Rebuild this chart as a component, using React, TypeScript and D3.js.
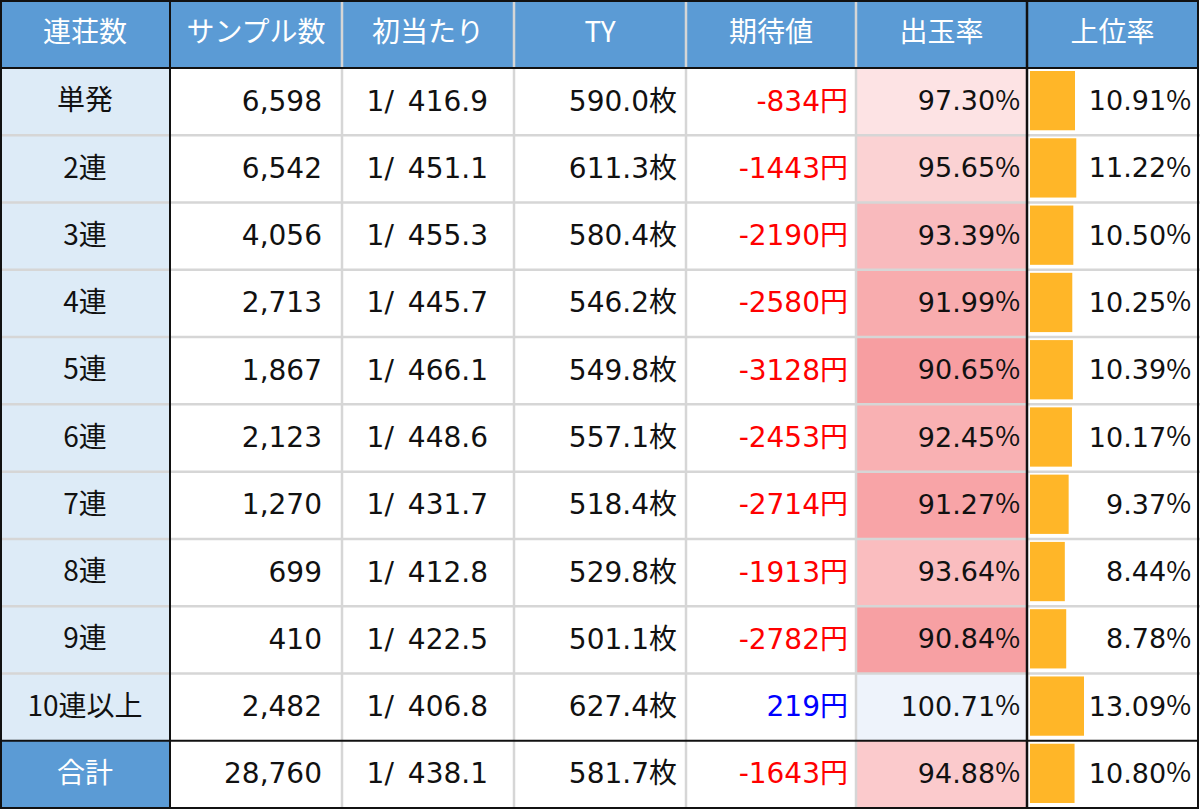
import * as React from "react";
import * as d3 from "d3";

const categories = ["単発", "2連", "3連", "4連", "5連", "6連", "7連", "8連", "9連", "10連以上", "合計"];
const samples = [6598, 6542, 4056, 2713, 1867, 2123, 1270, 699, 410, 2482, 28760];
const firstHit = [416.9, 451.1, 455.3, 445.7, 466.1, 448.6, 431.7, 412.8, 422.5, 406.8, 438.1];
const tyValues = [590.0, 611.3, 580.4, 546.2, 549.8, 557.1, 518.4, 529.8, 501.1, 627.4, 581.7];
const expected = [-834, -1443, -2190, -2580, -3128, -2453, -2714, -1913, -2782, 219, -1643];
const payout = [97.30, 95.65, 93.39, 91.99, 90.65, 92.45, 91.27, 93.64, 90.84, 100.71, 94.88];
const topRate = [10.91, 11.22, 10.50, 10.25, 10.39, 10.17, 9.37, 8.44, 8.78, 13.09, 10.80];
const headers = ["連荘数", "サンプル数", "初当たり", "TY", "期待値", "出玉率", "上位率"];

const W = 1200;
const H = 810;
const colEdges = [0, 170, 342, 514, 686, 856, 1027, 1198];
const headerH = 68;
const bottom = 808;
const font = "'Noto Sans CJK JP', 'Noto Sans', sans-serif";
// Verdana-like latin for the numbers, CJK falls back
const numFont = "'DejaVu Sans', 'Noto Sans CJK JP', sans-serif";

export default function App() {
  const nRows = categories.length;
  const rowY = d3.scaleLinear().domain([0, nRows]).range([headerH, bottom]);
  const rowH = rowY(1) - rowY(0);

  const payColor = d3.scaleLinear<string>()
    .domain([d3.min(payout)!, 100, d3.max(payout)!])
    .range(["#F79EA1", "#FFFFFF", "#EEF3FB"]);
  const barW = d3.scaleLinear().domain([0, d3.max(topRate)!]).range([0, 54]);

  const fmtInt = d3.format(",");
  const fmt1 = d3.format(".1f");
  const fmt2 = d3.format(".2f");

  const fs = 28;
  const ink = "#111";

  const cells: React.ReactNode[] = [];
  categories.forEach((cat, i) => {
    const y0 = rowY(i);
    const cy = y0 + rowH / 2 + 1;
    const isTotal = i === nRows - 1;
    // first column background
    cells.push(<rect key={"c" + i} x={0} y={y0} width={colEdges[1]} height={rowH}
      fill={isTotal ? "#5B9BD5" : "#DDEBF7"} />);
    // payout heat
    cells.push(<rect key={"p" + i} x={colEdges[5]} y={y0} width={colEdges[6] - colEdges[5]} height={rowH}
      fill={payColor(payout[i])} />);
    // data bar
    cells.push(<rect key={"b" + i} x={colEdges[6] + 3} y={y0 + 3} width={barW(topRate[i])} height={rowH - 8}
      fill="#FFB628" />);

    const common = { y: cy, dominantBaseline: "middle" as const, fontSize: fs, fontFamily: numFont, textAnchor: "end" as const };
    cells.push(<text key={"t" + i} x={colEdges[1] / 2} y={cy} textAnchor="middle" dominantBaseline="middle"
      fill={isTotal ? "#fff" : ink} fontSize={fs} fontFamily={font}>{cat}</text>);
    cells.push(<text key={"s" + i} x={322} {...common} fill={ink}>{fmtInt(samples[i])}</text>);
    cells.push(<text key={"f" + i} x={488} {...common} fill={ink}>1/<tspan dx={14}>{fmt1(firstHit[i])}</tspan></text>);
    cells.push(<text key={"y" + i} x={677} {...common} fill={ink}>{fmt1(tyValues[i]) + "枚"}</text>);
    cells.push(<text key={"e" + i} x={848} {...common} fill={expected[i] < 0 ? "#FF0000" : "#0000FF"}>{expected[i] + "円"}</text>);
    cells.push(<text key={"o" + i} x={1020} {...common} fontSize={27} fill={ink}>
      {fmt2(payout[i])}<tspan fontFamily={font}>%</tspan></text>);
    cells.push(<text key={"r" + i} x={1191} {...common} fontSize={27} fill={ink}>
      {fmt2(topRate[i])}<tspan fontFamily={font}>%</tspan></text>);
  });

  const grey = "#D6D6D6";
  const lines: React.ReactNode[] = [];
  // grey horizontal row lines
  for (let i = 1; i < nRows - 1; i++) {
    lines.push(<line key={"h" + i} x1={0} x2={W} y1={rowY(i)} y2={rowY(i)} stroke={grey} strokeWidth={2.5} />);
  }
  // grey vertical lines
  [2, 3, 4, 5].forEach((k) => {
    lines.push(<line key={"v" + k} x1={colEdges[k]} x2={colEdges[k]} y1={0} y2={bottom} stroke={grey} strokeWidth={2.5} />);
  });

  return (
    <div style={{ position: "fixed", left: 0, top: 0, width: W, height: H, background: "#fff" }}>
      <svg width={W} height={H} style={{ display: "block", fontFamily: font }}>
        <rect x={0} y={0} width={W} height={H} fill="#fff" />
        <rect x={0} y={0} width={colEdges[7]} height={headerH} fill="#5B9BD5" />
        {cells}
        {lines}
        {headers.map((h, k) => (
          <text key={h} x={(colEdges[k] + colEdges[k + 1]) / 2} y={headerH / 2} textAnchor="middle"
            dominantBaseline="middle" fill="#fff" fontSize={fs}>{h}</text>
        ))}
        {/* black structure lines */}
        <rect x={1} y={1} width={colEdges[7] - 1} height={bottom - 1} fill="none" stroke="#111" strokeWidth={2} />
        <line x1={0} x2={colEdges[7]} y1={headerH} y2={headerH} stroke="#111" strokeWidth={2} />
        <line x1={0} x2={colEdges[7]} y1={rowY(nRows - 1)} y2={rowY(nRows - 1)} stroke="#111" strokeWidth={2} />
        <line x1={colEdges[1]} x2={colEdges[1]} y1={0} y2={bottom} stroke="#111" strokeWidth={2} />
        <line x1={colEdges[6]} x2={colEdges[6]} y1={0} y2={bottom} stroke="#111" strokeWidth={2.5} />
      </svg>
    </div>
  );
}
